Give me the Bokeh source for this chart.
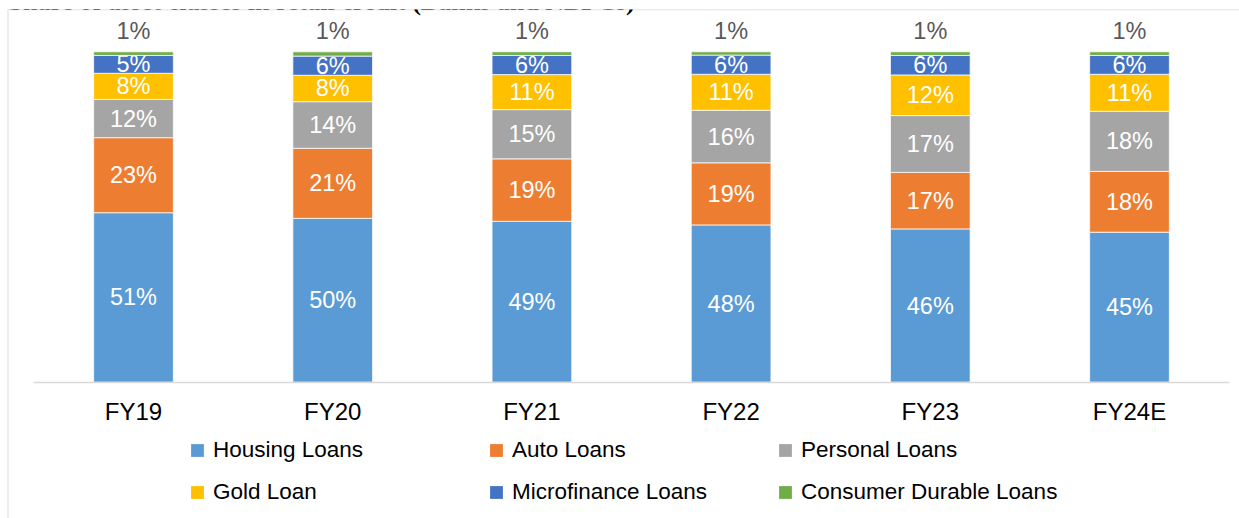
from bokeh.plotting import figure
from bokeh.models import ColumnDataSource, Range1d, FixedTicker, Span, Label, Legend, LegendItem
from bokeh.embed import file_html
from bokeh.resources import INLINE
from bokeh.core.properties import value
import numpy as np

# ---------------- data ----------------
title_text = "Share of asset classes in retail credit (Banks and NBFCs)"
categories = ["FY19", "FY20", "FY21", "FY22", "FY23", "FY24E"]
housing = [51.3, 49.6, 48.7, 47.6, 46.4, 45.4]
auto = [22.7, 21.2, 18.9, 18.8, 17.1, 18.4]
personal = [11.6, 14.1, 14.9, 15.9, 17.2, 18.2]
gold = [7.9, 8.0, 10.6, 10.9, 12.3, 11.2]
micro = [5.4, 5.8, 5.8, 5.8, 5.9, 5.7]
consumer = [1.1, 1.3, 1.1, 1.0, 1.1, 1.1]
series_names = ["Housing Loans", "Auto Loans", "Personal Loans", "Gold Loan",
                "Microfinance Loans", "Consumer Durable Loans"]
colors = ["#5B9BD5", "#ED7D31", "#A5A5A5", "#FFC000", "#4472C4", "#70AD47"]

series = [housing, auto, personal, gold, micro, consumer]
keys = ["s%d" % i for i in range(len(series))]

# ---------------- layout constants ----------------
W, H = 1239, 518
frame_left, frame_top = 7, 9
px_cat = 199.2          # pixels per category
first_center = 133.0    # pixel x of first category
zero_px = 381.7         # pixel y of 0%
px_unit = 3.304         # pixels per percentage point

x_start = -(first_center - frame_left) / px_cat
x_end = x_start + (W - frame_left) / px_cat
y_end = (zero_px - frame_top) / px_unit
y_start = -(H - zero_px) / px_unit

FONT = "Liberation Sans"

p = figure(width=W, height=H, output_backend="svg", toolbar_location=None,
           x_range=Range1d(x_start, x_end), y_range=Range1d(y_start, y_end),
           y_axis_location=None, min_border_left=frame_left, min_border_top=frame_top,
           min_border_right=0, min_border_bottom=0)
p.outline_line_color = None
p.xgrid.visible = False
p.ygrid.visible = False
p.background_fill_color = "white"
p.border_fill_color = "white"

idx = list(range(len(categories)))
data = {"x": idx}
for k, s in zip(keys, series):
    data[k] = s
src = ColumnDataSource(data)

p.vbar_stack(keys, x="x", width=0.4, color=colors, line_color="white",
             line_width=0.75, source=src)

# segment labels
arr = np.array(series, dtype=float)
bottoms = np.vstack([np.zeros(arr.shape[1]), np.cumsum(arr, axis=0)[:-1]])
lx, ly, lt = [], [], []
for si in range(len(series) - 1):
    for ci in idx:
        lx.append(ci)
        ly.append(bottoms[si, ci] + arr[si, ci] / 2)
        lt.append("%d%%" % round(arr[si, ci]))
p.text(x=lx, y=ly, text=lt, text_align="center", text_baseline="middle",
       text_color="white", text_font=value(FONT), text_font_size="23.5px")

# top (consumer durable) labels above bars
totals = arr.sum(axis=0)
p.text(x=idx, y=list(totals), text=["%d%%" % round(v) for v in arr[-1]],
       text_align="center", text_baseline="middle", y_offset=-21,
       text_color="#595959", text_font=value(FONT), text_font_size="23.5px")

# x axis
ax = p.xaxis[0]
ax.fixed_location = 0
ax.bounds = (-0.5, len(categories) - 0.5)
ax.ticker = FixedTicker(ticks=idx)
ax.major_label_overrides = {i: c for i, c in zip(idx, categories)}
ax.axis_line_color = "#D9D9D9"
ax.axis_line_width = 1.3
ax.major_tick_line_color = None
ax.minor_tick_line_color = None
ax.major_label_text_font = FONT
ax.major_label_text_font_size = "24px"
ax.major_label_text_color = "black"
ax.major_label_standoff = 10

# border lines of the chart area
p.add_layout(Span(location=x_start, dimension="height", line_color="#D9D9D9", line_width=2))
p.add_layout(Span(location=y_end, dimension="width", line_color="#D9D9D9", line_width=1.5))

# title (clipped at top like the reference)
p.add_layout(Label(x=x_start + 1 / px_cat, y=y_end + (frame_top - 0.7) / px_unit,
                   text=title_text, text_font="Liberation Serif", text_font_style="bold",
                   text_font_size="26px", text_color="black", text_baseline="middle"))

# legend (3 columns x 2 rows)
nan = float("nan")
markers = [p.scatter(x=[nan], y=[nan], marker="square", size=12, fill_color=c, line_color=None)
           for c in colors]
cols = [[0, 3], [1, 4], [2, 5]]
offsets = [174, 473, 762]
for off, col in zip(offsets, cols):
    items = [LegendItem(label=series_names[i], renderers=[markers[i]]) for i in col]
    lg = Legend(items=items, location=(off, 10), orientation="vertical",
                glyph_width=32, glyph_height=32, label_height=32, label_standoff=0,
                spacing=10, padding=0, margin=0, border_line_color=None,
                background_fill_alpha=0, label_text_font=FONT,
                label_text_font_size="22.5px", label_text_color="black")
    p.add_layout(lg)

open("out.html", "w").write(file_html(p, INLINE))
